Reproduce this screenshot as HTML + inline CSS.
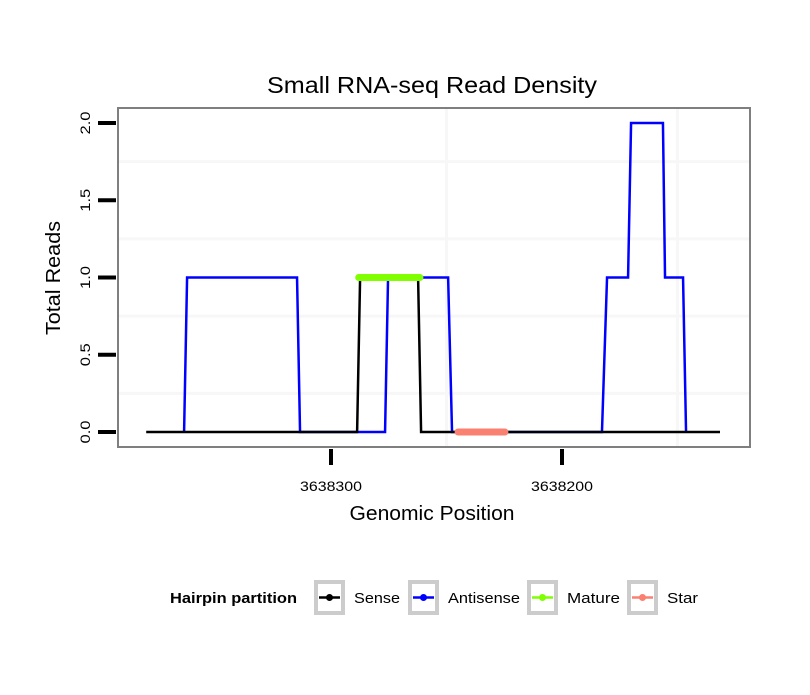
<!DOCTYPE html>
<html><head><meta charset="utf-8"><style>
body{margin:0;background:#fff;font-family:"Liberation Sans",sans-serif}
svg text{font-family:"Liberation Sans",sans-serif}
</style></head><body>
<svg id="chart" width="810" height="690">
<text x="432" y="93" font-size="23" text-anchor="middle" textLength="330" lengthAdjust="spacingAndGlyphs">Small RNA-seq Read Density</text>
<rect x="118" y="108" width="632" height="339" fill="#fff"/>
<g id="grid"></g>
<g id="series"></g>
<rect x="118" y="108" width="632" height="339" fill="none" stroke="#7f7f7f" stroke-width="2"/>
<g id="axes"></g>
<text x="432" y="520" font-size="20" text-anchor="middle" textLength="165" lengthAdjust="spacingAndGlyphs">Genomic Position</text>
<text transform="translate(60,278) rotate(-90)" font-size="20" text-anchor="middle" textLength="114" lengthAdjust="spacingAndGlyphs">Total Reads</text>
<g>
<text x="170" y="603" font-size="15" font-weight="bold" textLength="127" lengthAdjust="spacingAndGlyphs">Hairpin partition</text>
<g id="legend"></g>
</g>
</svg>
<script>
const yTicks=[0,0.5,1,1.5,2];
const yTickLabels=["0.0","0.5","1.0","1.5","2.0"];
const xTicks=[3638300,3638200];
const xTickLabels=["3638300","3638200"];
const sensePos=[3638380,3638288.7,3638287.4,3638262.3,3638261,3638131.6];
const senseVal=[0,0,1,1,0,0];
const antiPos=[3638363.6,3638362.3,3638314.7,3638313.4,3638276.6,3638275.3,3638249.3,3638247.6,3638182.7,3638180.5,3638171.4,3638170.1,3638156.3,3638155.4,3638147.6,3638146.3];
const antiVal=[0,1,1,0,0,1,1,0,0,1,1,2,2,1,1,0];
const maturePos=[3638288,3638261.5];
const matureVal=[1,1];
const starPos=[3638245,3638224.7];
const starVal=[0,0];
const seriesNames=["Sense","Antisense","Mature","Star"];
const seriesColors=["#000000","#0000ff","#7fff00","#fa8072"];
const labelWidths=[46,72,53,31];

const NS="http://www.w3.org/2000/svg";
const X=p=>331+(3638300-p)*2.31;
const Y=v=>432-v*154.5;
function mk(t,a,parent){const e=document.createElementNS(NS,t);for(const k in a)e.setAttribute(k,a[k]);parent.appendChild(e);return e;}
const grid=document.getElementById('grid'),series=document.getElementById('series'),axes=document.getElementById('axes'),legend=document.getElementById('legend');
[0.25,0.75,1.25,1.75].forEach(v=>{const l=mk('line',{x1:118,x2:750,y1:Y(v),y2:Y(v),stroke:'#f7f7f7','stroke-width':3},grid);

});
[3638250,3638150].forEach(p=>{const l=mk('line',{x1:X(p),x2:X(p),y1:108,y2:447,stroke:'#f7f7f7','stroke-width':3},grid);

});
function line(pos,val,color,w,name,cap){const pts=pos.map((p,i)=>X(p)+','+Y(val[i])).join(' ');
const e=mk('polyline',{points:pts,fill:'none',stroke:color,'stroke-width':w,'stroke-linecap':cap,'stroke-linejoin':'miter'},series);

}
line(antiPos,antiVal,seriesColors[1],2.5,'antisense-line','butt');
line(sensePos,senseVal,seriesColors[0],2.5,'sense-line','butt');
line(maturePos,matureVal,seriesColors[2],7,'mature-segment','round');
line(starPos,starVal,seriesColors[3],7,'star-segment','round');
yTicks.forEach((v,i)=>{const t=mk('line',{x1:98,x2:116,y1:Y(v),y2:Y(v),stroke:'#000','stroke-width':4},axes);


const tx=mk('text',{transform:`translate(90,${Y(v)}) rotate(-90)`,'font-size':14,'text-anchor':'middle',textLength:23,lengthAdjust:'spacingAndGlyphs'},axes);tx.textContent=yTickLabels[i];

});
xTicks.forEach((p,i)=>{const t=mk('line',{x1:X(p),x2:X(p),y1:449,y2:465,stroke:'#000','stroke-width':4},axes);


const tx=mk('text',{x:X(p),y:491,'font-size':14,'text-anchor':'middle',textLength:62,lengthAdjust:'spacingAndGlyphs'},axes);tx.textContent=xTickLabels[i];

});
const boxX=[314,408,527,627];
seriesNames.forEach((n,i)=>{const g=mk('g',{},legend);


const bx=boxX[i];
mk('rect',{x:bx+2,y:582,width:27,height:31,fill:'#fff',stroke:'#cccccc','stroke-width':4},g);
mk('line',{x1:bx+5,x2:bx+26,y1:597.5,y2:597.5,stroke:seriesColors[i],'stroke-width':2.5},g);
mk('circle',{cx:bx+15.5,cy:597.5,r:3.5,fill:seriesColors[i]},g);
const t=mk('text',{x:bx+40,y:603,'font-size':15,textLength:labelWidths[i],lengthAdjust:'spacingAndGlyphs'},g);t.textContent=n;});
</script>
</body></html>
